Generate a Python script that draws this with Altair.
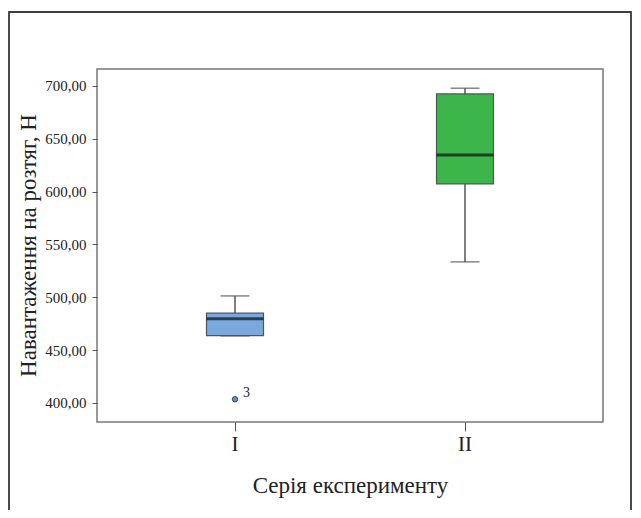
import altair as alt
import pandas as pd

# ---- data ----
categories = ["I", "II"]
mins = [463.5, 533.5]
q1s = [463.7, 607.3]
medians = [479.8, 634.7]
q3s = [485.0, 692.4]
maxs = [501.3, 697.8]
box_colors = ["#79a9dc", "#3cb54a"]

outlier_cats = ["I"]
outlier_vals = [403.5]
outlier_labels = ["3"]

y_ticks = [400, 450, 500, 550, 600, 650, 700]

df = pd.DataFrame({
    "cat": categories, "min": mins, "q1": q1s, "median": medians,
    "q3": q3s, "max": maxs,
})
out = pd.DataFrame({"cat": outlier_cats, "val": outlier_vals, "lab": outlier_labels})

FONT = "Liberation Serif"

xscale = alt.Scale(domain=categories, paddingInner=0.2, paddingOuter=0.2)
yscale = alt.Scale(domain=[382, 716], nice=False, zero=False)

x = alt.X("cat:N", scale=xscale, title="Серія експерименту",
          axis=alt.Axis(labelAngle=0, labelFontSize=21, titleFontSize=23,
                        tickSize=9, labelPadding=2, titlePadding=20,
                        domain=False, tickColor="#555", labelColor="#222",
                        titleColor="#222", titleFontWeight="normal",
                        labelFont=FONT, titleFont=FONT))
y_axis = alt.Axis(values=y_ticks, labelFontSize=15, tickSize=5, labelPadding=6,
                  labelExpr="replace(format(datum.value, '.2f'), '.', ',')",
                  domain=False, grid=False, tickColor="#555", labelColor="#222",
                  title="Навантаження на розтяг, Н", titleFontSize=23,
                  titleFontWeight="normal", titleColor="#222",
                  titleX=-69, titleY=176, titleBaseline="middle",
                  titleAngle=270, labelFont=FONT, titleFont=FONT)

base = alt.Chart(df)

frame = base.mark_rect(fill=None, stroke="#333", strokeWidth=1.3).encode(
    x=alt.value(-88), x2=alt.value(534), y=alt.value(-57), y2=alt.value(470)
)

lower_whisker = base.mark_rule(color="#555", strokeWidth=1.5).encode(
    x=x, y=alt.Y("min:Q", scale=yscale, axis=y_axis), y2="q1:Q"
)
upper_whisker = base.mark_rule(color="#555", strokeWidth=1.5).encode(
    x="cat:N", y="q3:Q", y2="max:Q"
)
cap_low = base.mark_tick(color="#555", size=29, thickness=1.5, orient="horizontal").encode(
    x="cat:N", y="min:Q"
)
cap_high = base.mark_tick(color="#555", size=29, thickness=1.5, orient="horizontal").encode(
    x="cat:N", y="max:Q"
)
box = base.mark_bar(size=57, stroke="#555", strokeWidth=1.2).encode(
    x="cat:N", y="q1:Q", y2="q3:Q",
    color=alt.Color("cat:N", scale=alt.Scale(domain=categories, range=box_colors), legend=None)
)
median = base.mark_tick(color="#111", size=57, thickness=3, orient="horizontal").encode(
    x="cat:N", y="median:Q"
)
outliers = alt.Chart(out).mark_point(filled=True, size=30, fill="#5b8fd0",
                                     stroke="#333", strokeWidth=0.8, opacity=1).encode(
    x="cat:N", y="val:Q"
)
out_text = alt.Chart(out).mark_text(align="left", dx=8, dy=-6, fontSize=14,
                                     font=FONT, color="#222").encode(
    x="cat:N", y="val:Q", text="lab:N"
)

chart = alt.layer(
    frame, lower_whisker, upper_whisker, cap_low, cap_high, box, median, outliers, out_text
).properties(
    width=506, height=353,
    autosize=alt.AutoSizeParams(type="none"),
    padding={"left": 89, "top": 61, "right": 30, "bottom": 88},
    background="white",
).configure_view(stroke="#777", strokeWidth=1.5)

chart.save("out.html", embed_options={"renderer": "svg", "actions": False})
